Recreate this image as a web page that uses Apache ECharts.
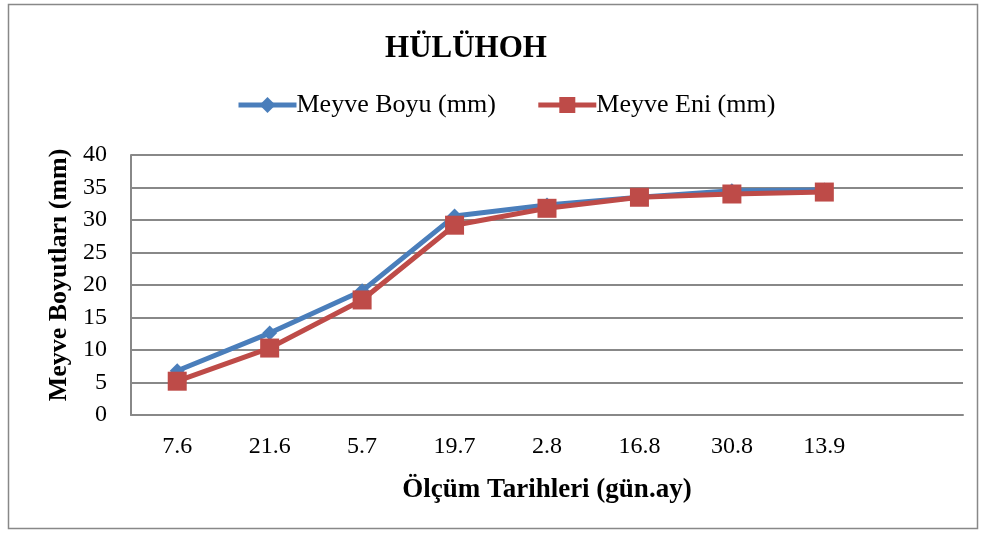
<!DOCTYPE html>
<html><head><meta charset="utf-8">
<script src="https://cdn.jsdelivr.net/npm/echarts@6/dist/echarts.min.js"></script>
<style>html,body{margin:0;padding:0;background:#fff;}#c{width:981px;height:533px;}</style>
</head><body><div id="c"></div>
<script>
const categories = ['7.6','21.6','5.7','19.7','2.8','16.8','30.8','13.9',''];
const boyu = [6.8, 12.6, 19.1, 30.6, 32.3, 33.5, 34.5, 34.6];
const eni  = [5.2, 10.3, 17.7, 29.2, 31.8, 33.5, 34.0, 34.3];
const yTicks = [0,5,10,15,20,25,30,35,40];
const font = '"Liberation Serif", "Times New Roman", serif';
const chart = echarts.init(document.getElementById('c'));
chart.setOption({
  animation:false,
  backgroundColor:'#fff',
  graphic:[{type:'rect',shape:{x:8.5,y:4.5,width:969,height:524},style:{fill:'none',stroke:'#888',lineWidth:1.5}}],
  title:{text:'HÜLÜHOH',left:461,top:28,textAlign:'center',textStyle:{fontFamily:font,fontSize:31,fontWeight:'bold',color:'#000'}},
  legend:{top:87,left:231,itemGap:40,itemWidth:58,itemHeight:20,
    lineStyle:{width:5},
    textStyle:{fontFamily:font,fontSize:26,color:'#000',padding:[0,0,0,-5]},
    data:['Meyve Boyu (mm)','Meyve Eni (mm)']},
  grid:{left:131,right:18,top:155,bottom:118},
  xAxis:{type:'category',data:categories,boundaryGap:true,
    name:'Ölçüm Tarihleri (gün.ay)',nameLocation:'middle',nameGap:62,
    nameTextStyle:{fontFamily:font,fontSize:27,fontWeight:'bold',color:'#000'},
    axisLine:{lineStyle:{color:'#888',width:2}},axisTick:{show:false},
    axisLabel:{fontFamily:font,fontSize:24,color:'#000',margin:20,interval:0}},
  yAxis:{type:'value',min:yTicks[0],max:yTicks[yTicks.length-1],interval:5,
    name:'Meyve Boyutları (mm)',nameLocation:'middle',nameGap:57,nameRotate:90,
    nameTextStyle:{fontFamily:font,fontSize:26,fontWeight:'bold',color:'#000',padding:[0,0,0,20]},
    axisLine:{show:true,lineStyle:{color:'#888',width:2}},axisTick:{show:false},
    axisLabel:{fontFamily:font,fontSize:24,color:'#000',margin:24},
    splitLine:{lineStyle:{color:'#888',width:2}}},
  series:[
    {name:'Meyve Boyu (mm)',type:'line',data:boyu,symbol:'diamond',symbolSize:15,
      itemStyle:{color:'#4a7ebb'},lineStyle:{color:'#4a7ebb',width:5}},
    {name:'Meyve Eni (mm)',type:'line',data:eni,symbol:'rect',symbolSize:19,
      itemStyle:{color:'#be4b48'},lineStyle:{color:'#be4b48',width:5}}
  ]
});
</script></body></html>
